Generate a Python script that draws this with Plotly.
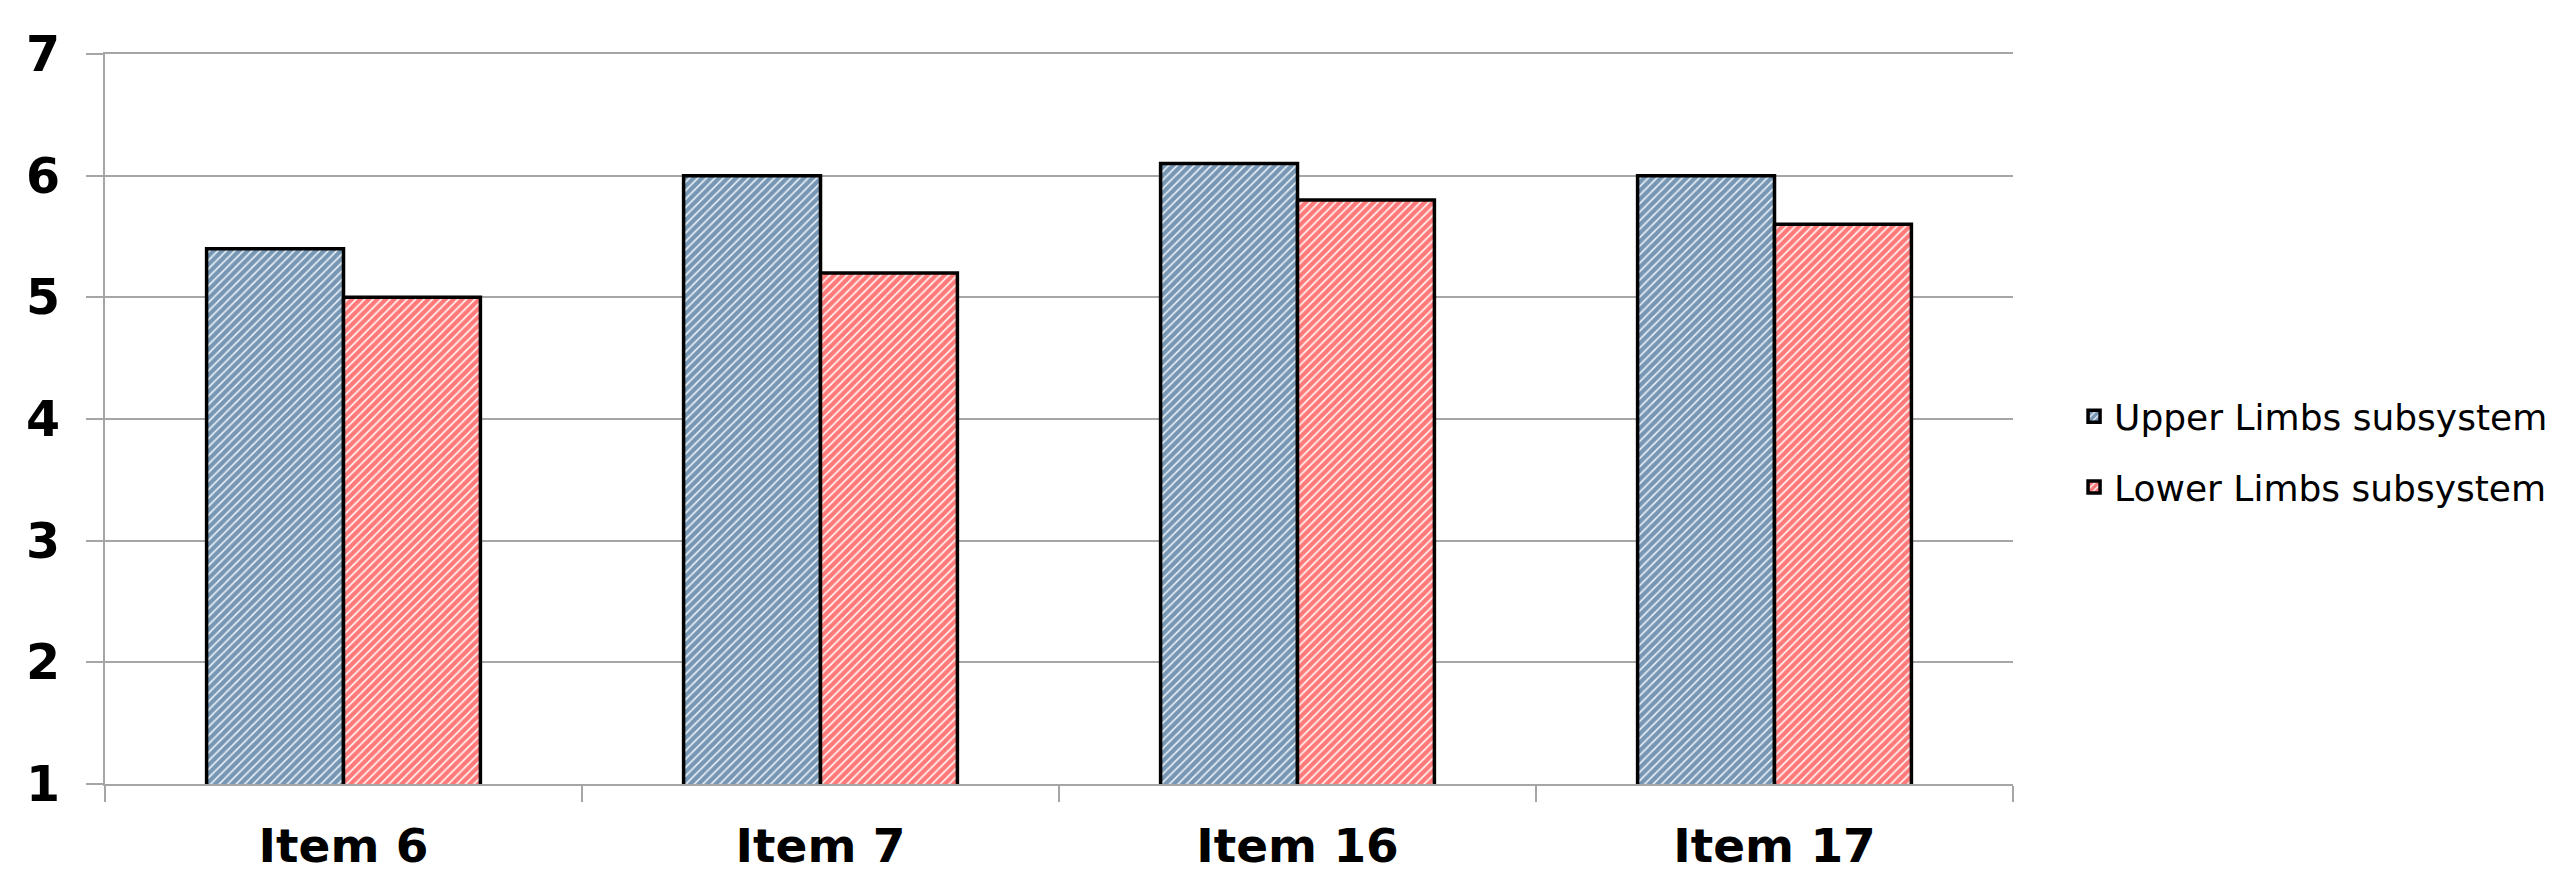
import plotly.graph_objects as go

categories = ["Item 6", "Item 7", "Item 16", "Item 17"]
upper_limbs = [5.4, 6.0, 6.1, 6.0]
lower_limbs = [5.0, 5.2, 5.8, 5.6]
series_names = ["Upper Limbs subsystem", "Lower Limbs subsystem"]
y_ticks = [1, 2, 3, 4, 5, 6, 7]

GRID = "#a6a6a6"
FONT = "DejaVu Sans"

fig = go.Figure()
fig.add_trace(go.Bar(
    x=categories, y=upper_limbs, name=series_names[0], legendgroup="a",
    marker=dict(color="#dfe9f3", line=dict(color="black", width=3.5),
                pattern=dict(shape="/", fgcolor="#08406f", bgcolor="#e4edf6",
                             size=6, solidity=0.7)),
))
fig.add_trace(go.Bar(
    x=categories, y=lower_limbs, name=series_names[1], legendgroup="b",
    marker=dict(color="#ffeaea", line=dict(color="black", width=3.5),
                pattern=dict(shape="/", fgcolor="#ff0000", bgcolor="#fff2f2",
                             size=6, solidity=0.7)),
))

fig.update_layout(
    width=2576, height=891,
    margin=dict(l=97, r=571, t=46, b=115, autoexpand=False),
    paper_bgcolor="white", plot_bgcolor="white",
    barmode="group", bargap=0.426, bargroupgap=0,
    showlegend=True,
    legend=dict(x=1.032, y=0.455, xanchor="left", yanchor="middle",
                font=dict(family=FONT, size=36, color="black"),
                tracegroupgap=21, traceorder="grouped",
                itemwidth=30),
)
fig.update_xaxes(
    type="category", automargin=False,
    showline=True, linecolor=GRID, linewidth=2, mirror=True,
    ticks="outside", tickson="boundaries", ticklen=16, tickcolor=GRID, tickwidth=2,
    tickfont=dict(family=FONT, size=47, color="black", weight="bold"),
    ticklabelstandoff=20,
    showgrid=False,
)
fig.update_yaxes(
    range=[1, 7], tickvals=y_ticks, automargin=False,
    showline=True, linecolor=GRID, linewidth=2,
    showgrid=True, gridcolor=GRID, gridwidth=2,
    ticks="outside", ticklen=17, tickcolor=GRID, tickwidth=2,
    tickfont=dict(family=FONT, size=49, color="black", weight="bold"),
    ticklabelstandoff=16,
    zeroline=False,
)

fig.write_html("out.html")
